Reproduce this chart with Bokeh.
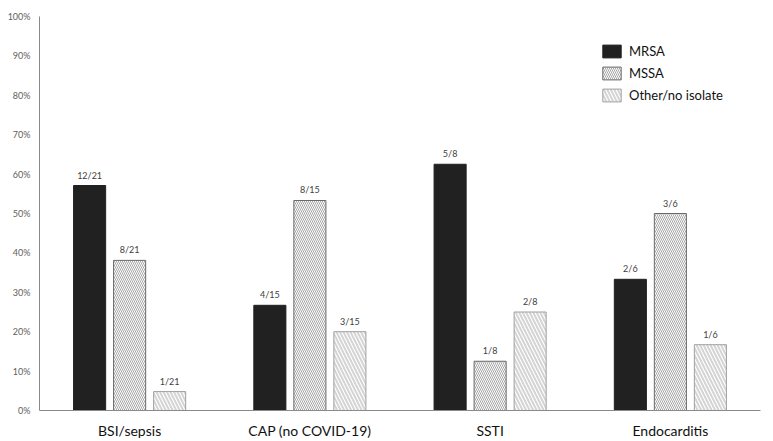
from bokeh.plotting import figure
from bokeh.models import (ColumnDataSource, FactorRange, Range1d, FixedTicker,
                          PrintfTickFormatter, Legend, LegendItem)
from bokeh.transform import dodge
from bokeh.core.properties import value
from bokeh.embed import file_html
from bokeh.resources import INLINE

categories = ["BSI/sepsis", "CAP (no COVID-19)", "SSTI", "Endocarditis"]
mrsa = [57.1, 26.7, 62.5, 33.3]
mssa = [38.1, 53.3, 12.5, 50.0]
other = [4.8, 20.0, 25.0, 16.7]
mrsa_lbl = ["12/21", "4/15", "5/8", "2/6"]
mssa_lbl = ["8/21", "8/15", "1/8", "3/6"]
other_lbl = ["1/21", "3/15", "2/8", "1/6"]
y_ticks = [0, 10, 20, 30, 40, 50, 60, 70, 80, 90, 100]

FONT = "Lato"

src = ColumnDataSource(dict(cat=categories, mrsa=mrsa, mssa=mssa, other=other,
                            mrsa_lbl=mrsa_lbl, mssa_lbl=mssa_lbl, other_lbl=other_lbl))

p = figure(width=765, height=441, output_backend="svg", toolbar_location=None,
           x_range=FactorRange(*categories, range_padding=0, factor_padding=0),
           y_range=Range1d(0, 100),
           min_border_left=39, min_border_right=5, min_border_top=16, min_border_bottom=20)
p.outline_line_color = None
p.xgrid.grid_line_color = None
p.ygrid.grid_line_color = None

W = 0.178
OFF = 0.222
r1 = p.vbar(x=dodge("cat", -OFF, range=p.x_range), top="mrsa", width=W, source=src,
            fill_color="#212121", line_color="#212121")
r2 = p.vbar(x=dodge("cat", 0, range=p.x_range), top="mssa", width=W, source=src,
            fill_color="white", line_color="#6a6a6a", line_width=1,
            hatch_pattern="left_diagonal_line", hatch_color="#a6a6a6",
            hatch_scale=4, hatch_weight=1)
r3 = p.vbar(x=dodge("cat", OFF, range=p.x_range), top="other", width=W, source=src,
            fill_color="white", line_color="#a0a0a0", line_width=1,
            hatch_pattern="left_diagonal_line", hatch_color="#d4d4d4",
            hatch_scale=7, hatch_weight=2)

for off, col, lbl in [(-OFF, "mrsa", "mrsa_lbl"), (0, "mssa", "mssa_lbl"), (OFF, "other", "other_lbl")]:
    p.text(x=dodge("cat", off, range=p.x_range), y=col, text=lbl, source=src,
           text_font=value(FONT), text_font_size="9px", text_color="#404040",
           text_align="center", text_baseline="bottom", y_offset=-5)

p.yaxis.ticker = FixedTicker(ticks=y_ticks)
p.yaxis.formatter = PrintfTickFormatter(format="%d%%")
p.yaxis.major_tick_line_color = None
p.yaxis.minor_tick_line_color = None
p.yaxis.major_tick_out = 0
p.yaxis.major_tick_in = 0
p.yaxis.minor_tick_out = 0
p.yaxis.axis_line_color = "#8a8a8a"
p.yaxis.major_label_text_font = FONT
p.yaxis.major_label_text_font_size = "9px"
p.yaxis.major_label_text_color = "#606060"
p.yaxis.major_label_standoff = 9

p.xaxis.major_tick_line_color = None
p.xaxis.minor_tick_line_color = None
p.xaxis.major_tick_out = 0
p.xaxis.major_tick_in = 0
p.xaxis.minor_tick_out = 0
p.xaxis.axis_line_color = "#8a8a8a"
p.xaxis.major_label_text_font = FONT
p.xaxis.major_label_text_font_size = "14px"
p.xaxis.major_label_text_color = "#111111"
p.xaxis.major_label_standoff = 11

legend = Legend(items=[LegendItem(label="MRSA", renderers=[r1]),
                       LegendItem(label="MSSA", renderers=[r2]),
                       LegendItem(label="Other/no isolate", renderers=[r3])],
                location=(561, 307), padding=0, margin=0, spacing=6,
                glyph_width=23, glyph_height=16, label_height=16, label_standoff=6,
                label_text_font=FONT, label_text_font_size="13px", label_text_color="#111111",
                border_line_color=None, background_fill_alpha=0)
p.add_layout(legend)

open("out.html", "w").write(file_html(p, INLINE))
